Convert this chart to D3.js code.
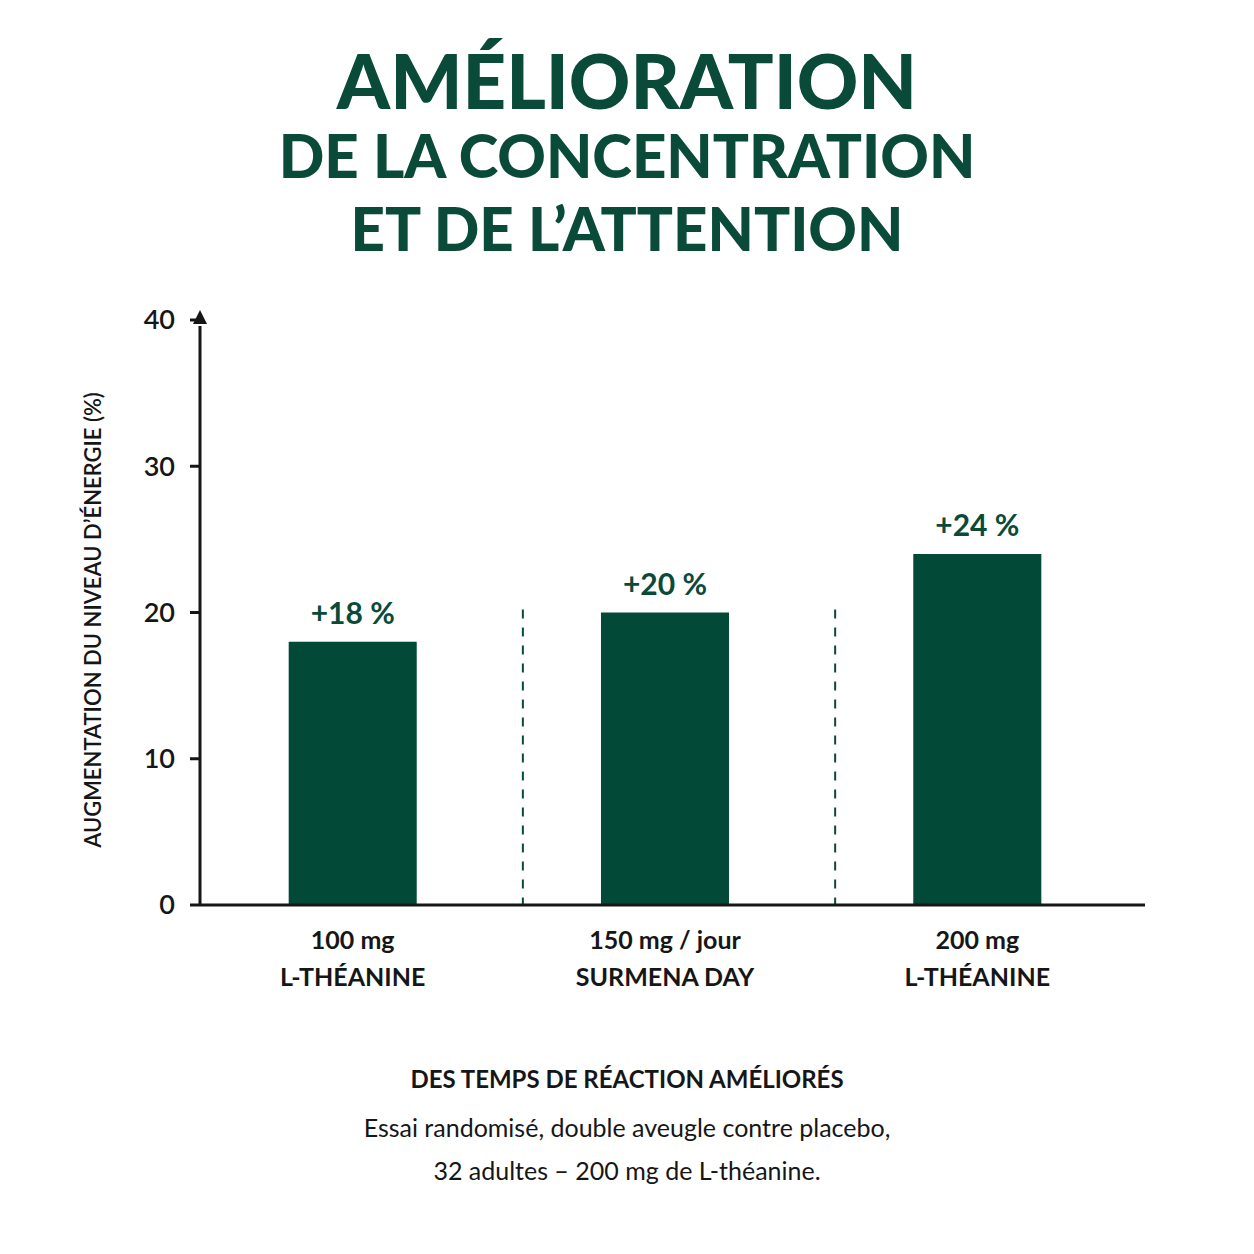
<!DOCTYPE html>
<html><head><meta charset="utf-8">
<script src="https://cdn.jsdelivr.net/npm/d3@7"></script>
<style>body{margin:0;background:#fff}</style>
</head><body><div id="chart"></div>
<script>
var categories = ["100 mg|L-THÉANINE", "150 mg / jour|SURMENA DAY", "200 mg|L-THÉANINE"];
var values = [18, 20, 24];
var valueLabels = ["+18 %", "+20 %", "+24 %"];
var yTicks = [0, 10, 20, 30, 40];

var green = "#0a4a39", barGreen = "#024a37", ink = "#161616";
var font = "Lato, 'Open Sans', sans-serif";

var svg = d3.select("#chart").append("svg").attr("width", 1254).attr("height", 1254);

var titles = [["AMÉLIORATION", 82, 76], ["DE LA CONCENTRATION", 157, 60], ["ET DE L\u2019ATTENTION", 230, 60]];
titles.forEach(t => svg.append("text").attr("x", 627).attr("y", t[1]).attr("dy", "0.35em")
  .attr("text-anchor", "middle").attr("font-family", font).attr("font-weight", 900)
  .attr("font-size", t[2]).attr("fill", green).text(t[0]));

var x = d3.scaleBand().domain(categories).range([195, 1135]).paddingInner(0.59).paddingOuter(0.3);
var y = d3.scaleLinear().domain([0, 40]).range([905, 320]);

// dashed separators
var step = x.step();
[1, 2].forEach(i => {
  var xp = x(categories[i]) - step * x.paddingInner() / 2 + 14;
  svg.append("line").attr("x1", xp).attr("x2", xp).attr("y1", y(20.2)).attr("y2", y(0))
    .attr("stroke", green).attr("stroke-width", 2).attr("stroke-dasharray", "9,9");
});

svg.selectAll(".bar").data(values).enter().append("rect")
  .attr("x", (d, i) => x(categories[i])).attr("width", x.bandwidth())
  .attr("y", d => y(d)).attr("height", d => y(0) - y(d)).attr("fill", barGreen);

svg.selectAll(".vl").data(values).enter().append("text")
  .attr("x", (d, i) => x(categories[i]) + x.bandwidth() / 2).attr("y", d => y(d) - 18)
  .attr("text-anchor", "middle").attr("font-family", font).attr("font-weight", 700)
  .attr("font-size", 30).attr("fill", green).text((d, i) => valueLabels[i]);

// axes
svg.append("line").attr("x1", 200).attr("x2", 1145).attr("y1", y(0)).attr("y2", y(0)).attr("stroke", ink).attr("stroke-width", 3);
svg.append("line").attr("x1", 200).attr("x2", 200).attr("y1", y(0)).attr("y2", y(40) + 6).attr("stroke", ink).attr("stroke-width", 3);
svg.append("path").attr("d", "M200," + (y(40) - 10) + "l-7,14h14z").attr("fill", ink);
yTicks.forEach(t => {
  svg.append("line").attr("x1", 190).attr("x2", 200).attr("y1", y(t)).attr("y2", y(t)).attr("stroke", ink).attr("stroke-width", 3);
  svg.append("text").attr("x", 175).attr("y", y(t)).attr("dy", "0.35em").attr("text-anchor", "end")
    .attr("font-family", font).attr("font-weight", 600).attr("font-size", 27).attr("fill", ink).text(t);
});

svg.append("text").attr("transform", "translate(93,620) rotate(-90)").attr("text-anchor", "middle")
  .attr("dy", "0.35em").attr("font-family", font).attr("font-weight", 600).attr("font-size", 22)
  .attr("fill", ink).text("AUGMENTATION DU NIVEAU D\u2019ÉNERGIE (%)");

categories.forEach(c => {
  var cx = x(c) + x.bandwidth() / 2;
  c.split("|").forEach((l, j) => svg.append("text").attr("x", cx).attr("y", 940 + j * 37).attr("dy", "0.35em")
    .attr("text-anchor", "middle").attr("font-family", font).attr("font-weight", 700)
    .attr("font-size", 25).attr("fill", ink).text(l));
});

svg.append("text").attr("x", 627).attr("y", 1080).attr("dy", "0.35em").attr("text-anchor", "middle")
  .attr("font-family", font).attr("font-weight", 700).attr("font-size", 24).attr("fill", ink)
  .text("DES TEMPS DE RÉACTION AMÉLIORÉS");
["Essai randomisé, double aveugle contre placebo,", "32 adultes \u2013 200 mg de L-théanine."].forEach((l, j) =>
  svg.append("text").attr("x", 627).attr("y", 1128 + j * 43).attr("dy", "0.35em").attr("text-anchor", "middle")
    .attr("font-family", font).attr("font-size", 25).attr("fill", ink).text(l));
</script></body></html>
